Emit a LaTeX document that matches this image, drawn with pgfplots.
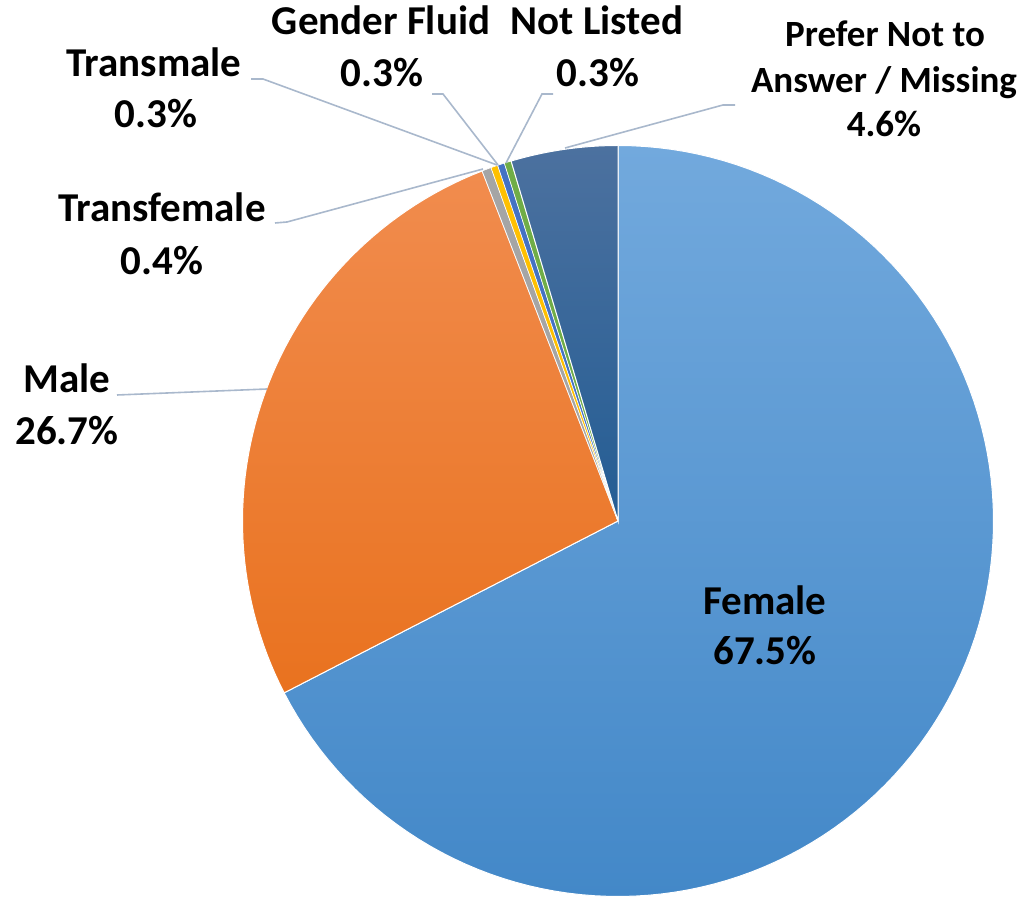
\documentclass[border=0pt]{standalone}
\usepackage{pgfplots}
\pgfplotsset{compat=1.18}
\usepackage{fontspec}
\setmainfont{Carlito}
\definecolor{femTop}{HTML}{72A9DD}
\definecolor{femBot}{HTML}{4388C8}
\definecolor{malTop}{HTML}{F18C4E}
\definecolor{malBot}{HTML}{E9721F}
\definecolor{cGray}{HTML}{A5A5A5}
\definecolor{cYel}{HTML}{FFC000}
\definecolor{cBlue}{HTML}{4472C4}
\definecolor{cGreen}{HTML}{70AD47}
\definecolor{preTop}{HTML}{4C719F}
\definecolor{preBot}{HTML}{245D94}
\definecolor{leader}{HTML}{A9B8CC}
\begin{document}
\begin{tikzpicture}
\def\cx{618}\def\cy{377}\def\R{375.5}
% shares in percent
\def\vFem{67.5}\def\vMal{26.7}\def\vTf{0.4}\def\vTm{0.3}\def\vGf{0.3}\def\vNl{0.3}\def\vPr{4.6}
\pgfmathsetmacro\tot{\vFem+\vMal+\vTf+\vTm+\vGf+\vNl+\vPr}
\pgfmathsetmacro\aA{90}
\pgfmathsetmacro\aB{\aA-360*(\vFem/\tot)}
\pgfmathsetmacro\aC{\aB-360*(\vMal/\tot)}
\pgfmathsetmacro\aD{\aC-360*(\vTf/\tot)}
\pgfmathsetmacro\aE{\aD-360*(\vTm/\tot)}
\pgfmathsetmacro\aF{\aE-360*(\vGf/\tot)}
\pgfmathsetmacro\aG{\aF-360*(\vNl/\tot)}
\pgfmathsetmacro\aH{\aG-360*(\vPr/\tot)}
\newcommand\lbl{\fontsize{41bp}{49bp}\selectfont\bfseries}
\newcommand\lbs{\fontsize{37bp}{44bp}\selectfont\bfseries}
\begin{axis}[width=1027bp, height=898bp, scale only axis,
  xmin=0, xmax=1027, ymin=0, ymax=898, axis lines=none, clip=false]
\addplot[draw=white, line width=1bp, top color=femTop, bottom color=femBot,
  domain=\aB:\aA, samples=120, variable=\t]
  ({\cx+\R*cos(\t)},{\cy+\R*sin(\t)}) -- (axis cs:\cx,\cy) -- cycle;
\addplot[draw=white, line width=1bp, top color=malTop, bottom color=malBot,
  domain=\aC:\aB, samples=60, variable=\t]
  ({\cx+\R*cos(\t)},{\cy+\R*sin(\t)}) -- (axis cs:\cx,\cy) -- cycle;
\addplot[draw=white, line width=0.6bp, fill=cGray,
  domain=\aD:\aC, samples=5, variable=\t]
  ({\cx+\R*cos(\t)},{\cy+\R*sin(\t)}) -- (axis cs:\cx,\cy) -- cycle;
\addplot[draw=white, line width=0.6bp, fill=cYel,
  domain=\aE:\aD, samples=5, variable=\t]
  ({\cx+\R*cos(\t)},{\cy+\R*sin(\t)}) -- (axis cs:\cx,\cy) -- cycle;
\addplot[draw=white, line width=0.6bp, fill=cBlue,
  domain=\aF:\aE, samples=5, variable=\t]
  ({\cx+\R*cos(\t)},{\cy+\R*sin(\t)}) -- (axis cs:\cx,\cy) -- cycle;
\addplot[draw=white, line width=0.6bp, fill=cGreen,
  domain=\aG:\aF, samples=5, variable=\t]
  ({\cx+\R*cos(\t)},{\cy+\R*sin(\t)}) -- (axis cs:\cx,\cy) -- cycle;
\addplot[draw=white, line width=1bp, top color=preTop, bottom color=preBot,
  domain=\aH:\aG, samples=30, variable=\t]
  ({\cx+\R*cos(\t)},{\cy+\R*sin(\t)}) -- (axis cs:\cx,\cy) -- cycle;
% leader lines
\addplot[leader, line width=1.6bp, mark=none] coordinates {(251,819) (263,819) (497,733)};
\addplot[leader, line width=1.6bp, mark=none] coordinates {(432,804) (443,804) (498,733)};
\addplot[leader, line width=1.6bp, mark=none] coordinates {(553,804) (542,804) (506,735)};
\addplot[leader, line width=1.6bp, mark=none] coordinates {(735,793) (723,793) (565,750)};
\addplot[leader, line width=1.6bp, mark=none] coordinates {(275,675) (287,676) (483,729)};
\addplot[leader, line width=1.6bp, mark=none] coordinates {(117,503) (267,509)};
% labels
\begin{scope}[every node/.style={anchor=base, inner sep=0pt, font=\lbl}]
\node at (axis cs:154,821) {Transmale};
\node at (axis cs:156,770) {0.3\%};
\node at (axis cs:381,863) {Gender Fluid};
\node at (axis cs:382,811) {0.3\%};
\node at (axis cs:597,863) {Not Listed};
\node at (axis cs:598,811) {0.3\%};
\node[font=\lbs] at (axis cs:885,851) {Prefer Not to};
\node[font=\lbs] at (axis cs:884,805) {Answer / Missing};
\node[font=\lbs] at (axis cs:884,761) {4.6\%};
\node at (axis cs:162,676) {Transfemale};
\node at (axis cs:162,623) {0.4\%};
\node at (axis cs:67,505) {Male};
\node at (axis cs:67,453) {26.7\%};
\node at (axis cs:765,283) {Female};
\node at (axis cs:765,233) {67.5\%};
\end{scope}
\end{axis}
\path (current axis.south west) rectangle (current axis.north east);
\end{tikzpicture}
\end{document}
